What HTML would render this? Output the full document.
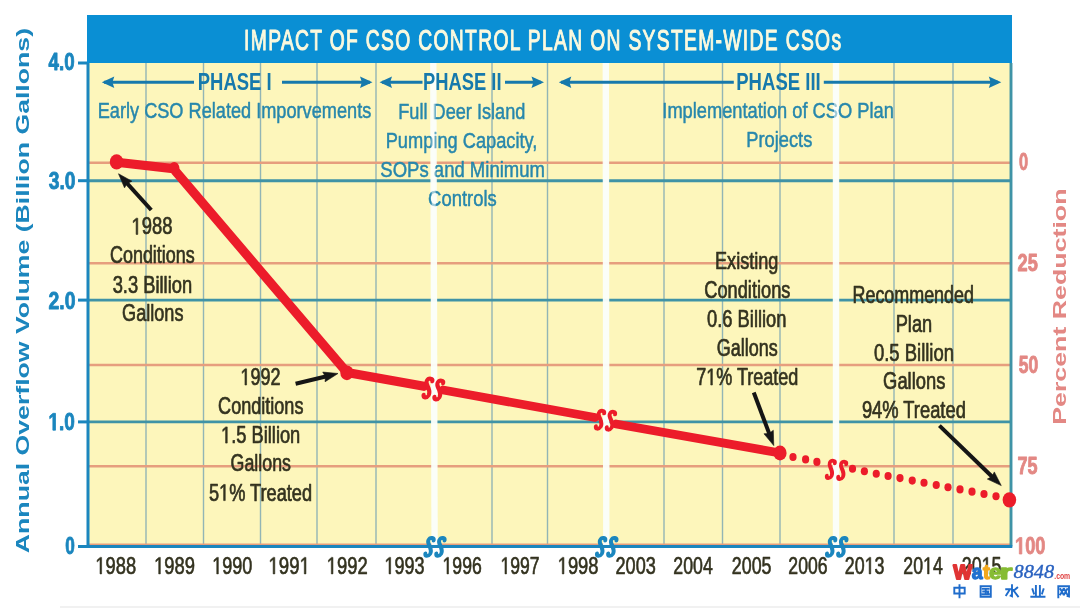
<!DOCTYPE html>
<html><head><meta charset="utf-8"><style>html,body{margin:0;padding:0;background:#fff;width:1080px;height:608px;overflow:hidden;font-family:"Liberation Sans",sans-serif}</style></head><body>
<svg width="1080" height="608" viewBox="0 0 1080 608" style="position:absolute;left:0;top:0;filter:blur(0.35px)" font-family="Liberation Sans, sans-serif">
<rect x="0" y="0" width="1080" height="608" fill="#FFFFFF"/>
<rect x="60" y="606" width="1020" height="2" fill="#F1F1F1"/>
<rect x="88" y="63" width="923" height="483.5" fill="#FDF6BB"/>
<line x1="146" y1="63" x2="146" y2="546.5" stroke="#92B5B5" stroke-width="1.4"/>
<line x1="203.5" y1="63" x2="203.5" y2="546.5" stroke="#92B5B5" stroke-width="1.4"/>
<line x1="260.5" y1="63" x2="260.5" y2="546.5" stroke="#92B5B5" stroke-width="1.4"/>
<line x1="317" y1="63" x2="317" y2="546.5" stroke="#92B5B5" stroke-width="1.4"/>
<line x1="376" y1="63" x2="376" y2="546.5" stroke="#92B5B5" stroke-width="1.4"/>
<line x1="492" y1="63" x2="492" y2="546.5" stroke="#92B5B5" stroke-width="1.4"/>
<line x1="547.5" y1="63" x2="547.5" y2="546.5" stroke="#92B5B5" stroke-width="1.4"/>
<line x1="664" y1="63" x2="664" y2="546.5" stroke="#92B5B5" stroke-width="1.4"/>
<line x1="722.5" y1="63" x2="722.5" y2="546.5" stroke="#92B5B5" stroke-width="1.4"/>
<line x1="780" y1="63" x2="780" y2="546.5" stroke="#92B5B5" stroke-width="1.4"/>
<line x1="894" y1="63" x2="894" y2="546.5" stroke="#92B5B5" stroke-width="1.4"/>
<line x1="953" y1="63" x2="953" y2="546.5" stroke="#92B5B5" stroke-width="1.4"/>
<line x1="88" y1="162.8" x2="1011" y2="162.8" stroke="#E69E7E" stroke-width="2.4"/>
<line x1="88" y1="263.2" x2="1011" y2="263.2" stroke="#E69E7E" stroke-width="2.4"/>
<line x1="88" y1="365" x2="1011" y2="365" stroke="#E69E7E" stroke-width="2.4"/>
<line x1="88" y1="466.3" x2="1011" y2="466.3" stroke="#E69E7E" stroke-width="2.4"/>
<line x1="88" y1="544.2" x2="1011" y2="544.2" stroke="#E69E7E" stroke-width="1.6"/>
<line x1="88" y1="180.7" x2="1011" y2="180.7" stroke="#3F93A6" stroke-width="2.9"/>
<line x1="88" y1="300.1" x2="1011" y2="300.1" stroke="#3F93A6" stroke-width="2.9"/>
<line x1="88" y1="421.9" x2="1011" y2="421.9" stroke="#3F93A6" stroke-width="2.9"/>
<path d="M430.10 63 L436.50 63 L437.80 546.5 L431.40 546.5 Z" fill="#FBFEFA" opacity="0.96"/>
<path d="M602.60 63 L609.00 63 L609.50 546.5 L603.10 546.5 Z" fill="#FBFEFA" opacity="0.96"/>
<path d="M832.80 63 L839.20 63 L839.20 546.5 L832.80 546.5 Z" fill="#FBFEFA" opacity="0.96"/>
<line x1="88" y1="63" x2="88" y2="546.5" stroke="#1B86BE" stroke-width="3"/>
<line x1="1011" y1="63" x2="1011" y2="546.5" stroke="#3F93A6" stroke-width="2.9"/>
<line x1="78" y1="546.5" x2="1012.3" y2="546.5" stroke="#1B86BE" stroke-width="3"/>
<line x1="78" y1="63" x2="88" y2="63" stroke="#1B86BE" stroke-width="3"/>
<line x1="78" y1="180.7" x2="88" y2="180.7" stroke="#1B86BE" stroke-width="3"/>
<line x1="78" y1="300.1" x2="88" y2="300.1" stroke="#1B86BE" stroke-width="3"/>
<line x1="78" y1="421.9" x2="88" y2="421.9" stroke="#1B86BE" stroke-width="3"/>
<rect x="87" y="15" width="925" height="48" fill="#0A8FD4"/>
<g transform="translate(244.09,50.20) scale(0.6649,1)"><text x="0" y="0" font-size="29" font-weight="normal" fill="#FBF9DE" stroke="#FBF9DE" stroke-width="1.1" stroke-linejoin="round"  letter-spacing="2">IMPACT OF CSO CONTROL PLAN ON SYSTEM-WIDE CSOs</text></g>
<line x1="104" y1="82.3" x2="194" y2="82.3" stroke="#1679AC" stroke-width="3"/>
<path d="M101.8 82.3 L114.3 76.5 L112.425 82.3 L114.3 88.1 Z" fill="#1679AC"/>
<line x1="282" y1="82.3" x2="370" y2="82.3" stroke="#1679AC" stroke-width="3"/>
<path d="M372.5 82.3 L360.0 76.5 L361.875 82.3 L360.0 88.1 Z" fill="#1679AC"/>
<line x1="382" y1="82.3" x2="422.5" y2="82.3" stroke="#1679AC" stroke-width="3"/>
<path d="M379.5 82.3 L392.0 76.5 L390.125 82.3 L392.0 88.1 Z" fill="#1679AC"/>
<line x1="505" y1="82.3" x2="541" y2="82.3" stroke="#1679AC" stroke-width="3"/>
<path d="M544 82.3 L531.5 76.5 L533.375 82.3 L531.5 88.1 Z" fill="#1679AC"/>
<line x1="561" y1="82.3" x2="733.8" y2="82.3" stroke="#1679AC" stroke-width="3"/>
<path d="M558.8 82.3 L571.3 76.5 L569.425 82.3 L571.3 88.1 Z" fill="#1679AC"/>
<line x1="823.8" y1="82.3" x2="998" y2="82.3" stroke="#1679AC" stroke-width="3"/>
<path d="M1001.3 82.3 L988.8 76.5 L990.675 82.3 L988.8 88.1 Z" fill="#1679AC"/>
<g transform="translate(197.76,89.60) scale(0.7868,1)"><text x="0" y="0" font-size="23.5" font-weight="bold" fill="#1679AC" >PHASE I</text></g>
<g transform="translate(422.97,89.80) scale(0.7823,1)"><text x="0" y="0" font-size="23.5" font-weight="bold" fill="#1679AC" >PHASE II</text></g>
<g transform="translate(736.26,89.80) scale(0.7890,1)"><text x="0" y="0" font-size="23.5" font-weight="bold" fill="#1679AC" >PHASE III</text></g>
<g transform="translate(97.71,117.60) scale(0.8078,1)"><text x="0" y="0" font-size="22.5" font-weight="normal" fill="#2787AC" stroke="#2787AC" stroke-width="0.5" stroke-linejoin="round" >Early CSO Related Imporvements</text></g>
<g transform="translate(398.21,118.80) scale(0.8077,1)"><text x="0" y="0" font-size="22.5" font-weight="normal" fill="#2787AC" stroke="#2787AC" stroke-width="0.5" stroke-linejoin="round" >Full Deer Island</text></g>
<g transform="translate(385.71,147.80) scale(0.8106,1)"><text x="0" y="0" font-size="22.5" font-weight="normal" fill="#2787AC" stroke="#2787AC" stroke-width="0.5" stroke-linejoin="round" >Pumping Capacity,</text></g>
<g transform="translate(380.36,176.80) scale(0.8230,1)"><text x="0" y="0" font-size="22.5" font-weight="normal" fill="#2787AC" stroke="#2787AC" stroke-width="0.5" stroke-linejoin="round" >SOPs and Minimum</text></g>
<g transform="translate(428.07,206.00) scale(0.8199,1)"><text x="0" y="0" font-size="22.5" font-weight="normal" fill="#2787AC" stroke="#2787AC" stroke-width="0.5" stroke-linejoin="round" >Controls</text></g>
<g transform="translate(662.32,117.60) scale(0.8125,1)"><text x="0" y="0" font-size="22.5" font-weight="normal" fill="#2787AC" stroke="#2787AC" stroke-width="0.5" stroke-linejoin="round" >Implementation of CSO Plan</text></g>
<g transform="translate(746.20,147.20) scale(0.8141,1)"><text x="0" y="0" font-size="22.5" font-weight="normal" fill="#2787AC" stroke="#2787AC" stroke-width="0.5" stroke-linejoin="round" >Projects</text></g>
<path d="M431.38 93 L435.38 93 L435.71 215 L431.71 215 Z" fill="#FBFEFA" opacity="0.55"/>
<path d="M603.83 93 L607.83 93 L607.96 215 L603.96 215 Z" fill="#FBFEFA" opacity="0.55"/>
<path d="M834.00 93 L838.00 93 L838.00 215 L834.00 215 Z" fill="#FBFEFA" opacity="0.55"/>
<g transform="translate(48.56,70.00) scale(0.7655,1)"><text x="0" y="0" font-size="24.5" font-weight="bold" fill="#1B86BE" stroke="#1B86BE" stroke-width="0.9" stroke-linejoin="round" >4.0</text></g>
<g transform="translate(48.71,189.20) scale(0.7849,1)"><text x="0" y="0" font-size="24.5" font-weight="bold" fill="#1B86BE" stroke="#1B86BE" stroke-width="0.9" stroke-linejoin="round" >3.0</text></g>
<g transform="translate(48.48,309.20) scale(0.7917,1)"><text x="0" y="0" font-size="24.5" font-weight="bold" fill="#1B86BE" stroke="#1B86BE" stroke-width="0.9" stroke-linejoin="round" >2.0</text></g>
<g transform="translate(48.45,430.20) scale(0.7748,1)"><text x="0" y="0" font-size="24.5" font-weight="bold" fill="#1B86BE" stroke="#1B86BE" stroke-width="0.9" stroke-linejoin="round" > .0</text><path d="M5.72 0.00 L5.72 -14.00 L1.67 -11.47 L1.67 -14.12 L5.90 -16.86 L9.08 -16.86 L9.08 0.00 Z" fill="#1B86BE" stroke="#1B86BE" stroke-width="0.9" stroke-linejoin="round" /></g>
<g transform="translate(65.24,554.00) scale(0.7011,1)"><text x="0" y="0" font-size="24.5" font-weight="bold" fill="#1B86BE" stroke="#1B86BE" stroke-width="0.9" stroke-linejoin="round" >0</text></g>
<g transform="translate(1019.06,170.20) scale(0.6821,1)"><text x="0" y="0" font-size="24" font-weight="bold" fill="#E38884" stroke="#E38884" stroke-width="0.9" stroke-linejoin="round" >0</text></g>
<g transform="translate(1017.51,271.30) scale(0.7589,1)"><text x="0" y="0" font-size="24" font-weight="bold" fill="#E38884" stroke="#E38884" stroke-width="0.9" stroke-linejoin="round" >25</text></g>
<g transform="translate(1018.79,373.00) scale(0.7306,1)"><text x="0" y="0" font-size="24" font-weight="bold" fill="#E38884" stroke="#E38884" stroke-width="0.9" stroke-linejoin="round" >50</text></g>
<g transform="translate(1017.56,473.80) scale(0.7531,1)"><text x="0" y="0" font-size="24" font-weight="bold" fill="#E38884" stroke="#E38884" stroke-width="0.9" stroke-linejoin="round" >75</text></g>
<g transform="translate(1015.10,554.00) scale(0.7570,1)"><text x="0" y="0" font-size="24" font-weight="bold" fill="#E38884" stroke="#E38884" stroke-width="0.9" stroke-linejoin="round" > 00</text><path d="M5.60 0.00 L5.60 -13.71 L1.64 -11.24 L1.64 -13.83 L5.78 -16.51 L8.89 -16.51 L8.89 0.00 Z" fill="#E38884" stroke="#E38884" stroke-width="0.9" stroke-linejoin="round" /></g>
<g transform="translate(28.70,552.50) scale(0.7600,1) rotate(-90) translate(-0.66,0) scale(1.0667,1)"><text x="0" y="0" font-size="25" font-weight="bold" fill="#1B86BE" >Annual Overflow Volume (Billion Gallons)</text></g>
<g transform="translate(1065.50,423.00) scale(0.7600,1) rotate(-90) translate(-1.79,0) scale(1.1151,1)"><text x="0" y="0" font-size="24" font-weight="bold" fill="#E38884" >Percent Reduction</text></g>
<g transform="translate(95.39,573.90) scale(0.7637,1)"><text x="0" y="0" font-size="24" font-weight="normal" fill="#33321F" stroke="#33321F" stroke-width="0.65" stroke-linejoin="round" > 988</text><path d="M6.04 0.00 L6.04 -14.50 L2.31 -11.84 L2.31 -13.83 L6.21 -16.51 L8.16 -16.51 L8.16 0.00 Z" fill="#33321F" stroke="#33321F" stroke-width="0.65" stroke-linejoin="round" /></g>
<g transform="translate(154.08,573.90) scale(0.7670,1)"><text x="0" y="0" font-size="24" font-weight="normal" fill="#33321F" stroke="#33321F" stroke-width="0.65" stroke-linejoin="round" > 989</text><path d="M6.04 0.00 L6.04 -14.50 L2.31 -11.84 L2.31 -13.83 L6.21 -16.51 L8.16 -16.51 L8.16 0.00 Z" fill="#33321F" stroke="#33321F" stroke-width="0.65" stroke-linejoin="round" /></g>
<g transform="translate(212.21,573.90) scale(0.7522,1)"><text x="0" y="0" font-size="24" font-weight="normal" fill="#33321F" stroke="#33321F" stroke-width="0.65" stroke-linejoin="round" > 990</text><path d="M6.04 0.00 L6.04 -14.50 L2.31 -11.84 L2.31 -13.83 L6.21 -16.51 L8.16 -16.51 L8.16 0.00 Z" fill="#33321F" stroke="#33321F" stroke-width="0.65" stroke-linejoin="round" /></g>
<g transform="translate(268.46,573.90) scale(0.7780,1)"><text x="0" y="0" font-size="24" font-weight="normal" fill="#33321F" stroke="#33321F" stroke-width="0.65" stroke-linejoin="round" > 99 </text><path d="M6.04 0.00 L6.04 -14.50 L2.31 -11.84 L2.31 -13.83 L6.21 -16.51 L8.16 -16.51 L8.16 0.00 Z" fill="#33321F" stroke="#33321F" stroke-width="0.65" stroke-linejoin="round" /><path d="M46.07 0.00 L46.07 -14.50 L42.34 -11.84 L42.34 -13.83 L46.24 -16.51 L48.19 -16.51 L48.19 0.00 Z" fill="#33321F" stroke="#33321F" stroke-width="0.65" stroke-linejoin="round" /></g>
<g transform="translate(326.68,573.90) scale(0.7681,1)"><text x="0" y="0" font-size="24" font-weight="normal" fill="#33321F" stroke="#33321F" stroke-width="0.65" stroke-linejoin="round" > 992</text><path d="M6.04 0.00 L6.04 -14.50 L2.31 -11.84 L2.31 -13.83 L6.21 -16.51 L8.16 -16.51 L8.16 0.00 Z" fill="#33321F" stroke="#33321F" stroke-width="0.65" stroke-linejoin="round" /></g>
<g transform="translate(384.51,573.90) scale(0.7500,1)"><text x="0" y="0" font-size="24" font-weight="normal" fill="#33321F" stroke="#33321F" stroke-width="0.65" stroke-linejoin="round" > 993</text><path d="M6.04 0.00 L6.04 -14.50 L2.31 -11.84 L2.31 -13.83 L6.21 -16.51 L8.16 -16.51 L8.16 0.00 Z" fill="#33321F" stroke="#33321F" stroke-width="0.65" stroke-linejoin="round" /></g>
<g transform="translate(442.54,573.90) scale(0.7342,1)"><text x="0" y="0" font-size="24" font-weight="normal" fill="#33321F" stroke="#33321F" stroke-width="0.65" stroke-linejoin="round" > 996</text><path d="M6.04 0.00 L6.04 -14.50 L2.31 -11.84 L2.31 -13.83 L6.21 -16.51 L8.16 -16.51 L8.16 0.00 Z" fill="#33321F" stroke="#33321F" stroke-width="0.65" stroke-linejoin="round" /></g>
<g transform="translate(500.55,573.90) scale(0.7325,1)"><text x="0" y="0" font-size="24" font-weight="normal" fill="#33321F" stroke="#33321F" stroke-width="0.65" stroke-linejoin="round" > 997</text><path d="M6.04 0.00 L6.04 -14.50 L2.31 -11.84 L2.31 -13.83 L6.21 -16.51 L8.16 -16.51 L8.16 0.00 Z" fill="#33321F" stroke="#33321F" stroke-width="0.65" stroke-linejoin="round" /></g>
<g transform="translate(557.68,573.90) scale(0.7656,1)"><text x="0" y="0" font-size="24" font-weight="normal" fill="#33321F" stroke="#33321F" stroke-width="0.65" stroke-linejoin="round" > 998</text><path d="M6.04 0.00 L6.04 -14.50 L2.31 -11.84 L2.31 -13.83 L6.21 -16.51 L8.16 -16.51 L8.16 0.00 Z" fill="#33321F" stroke="#33321F" stroke-width="0.65" stroke-linejoin="round" /></g>
<g transform="translate(615.53,573.90) scale(0.7553,1)"><text x="0" y="0" font-size="24" font-weight="normal" fill="#33321F" stroke="#33321F" stroke-width="0.65" stroke-linejoin="round" >2003</text></g>
<g transform="translate(673.35,573.90) scale(0.7387,1)"><text x="0" y="0" font-size="24" font-weight="normal" fill="#33321F" stroke="#33321F" stroke-width="0.65" stroke-linejoin="round" >2004</text></g>
<g transform="translate(731.84,573.90) scale(0.7430,1)"><text x="0" y="0" font-size="24" font-weight="normal" fill="#33321F" stroke="#33321F" stroke-width="0.65" stroke-linejoin="round" >2005</text></g>
<g transform="translate(788.35,573.90) scale(0.7341,1)"><text x="0" y="0" font-size="24" font-weight="normal" fill="#33321F" stroke="#33321F" stroke-width="0.65" stroke-linejoin="round" >2006</text></g>
<g transform="translate(844.84,573.90) scale(0.7437,1)"><text x="0" y="0" font-size="24" font-weight="normal" fill="#33321F" stroke="#33321F" stroke-width="0.65" stroke-linejoin="round" >20 3</text><path d="M32.72 0.00 L32.72 -14.50 L29.00 -11.84 L29.00 -13.83 L32.90 -16.51 L34.84 -16.51 L34.84 0.00 Z" fill="#33321F" stroke="#33321F" stroke-width="0.65" stroke-linejoin="round" /></g>
<g transform="translate(903.35,573.90) scale(0.7387,1)"><text x="0" y="0" font-size="24" font-weight="normal" fill="#33321F" stroke="#33321F" stroke-width="0.65" stroke-linejoin="round" >20 4</text><path d="M32.72 0.00 L32.72 -14.50 L29.00 -11.84 L29.00 -13.83 L32.90 -16.51 L34.84 -16.51 L34.84 0.00 Z" fill="#33321F" stroke="#33321F" stroke-width="0.65" stroke-linejoin="round" /></g>
<g transform="translate(961.84,573.90) scale(0.7430,1)"><text x="0" y="0" font-size="24" font-weight="normal" fill="#33321F" stroke="#33321F" stroke-width="0.65" stroke-linejoin="round" >20 5</text><path d="M32.72 0.00 L32.72 -14.50 L29.00 -11.84 L29.00 -13.83 L32.90 -16.51 L34.84 -16.51 L34.84 0.00 Z" fill="#33321F" stroke="#33321F" stroke-width="0.65" stroke-linejoin="round" /></g>
<g transform="translate(131.50,234.40) scale(0.7828,1)"><text x="0" y="0" font-size="23.5" font-weight="normal" fill="#33321F" stroke="#33321F" stroke-width="0.7" stroke-linejoin="round" > 988</text><path d="M5.91 0.00 L5.91 -14.19 L2.26 -11.59 L2.26 -13.54 L6.08 -16.17 L7.99 -16.17 L7.99 0.00 Z" fill="#33321F" stroke="#33321F" stroke-width="0.7" stroke-linejoin="round" /></g>
<g transform="translate(109.96,263.10) scale(0.7640,1)"><text x="0" y="0" font-size="23.5" font-weight="normal" fill="#33321F" stroke="#33321F" stroke-width="0.7" stroke-linejoin="round" >Conditions</text></g>
<g transform="translate(112.67,292.50) scale(0.7802,1)"><text x="0" y="0" font-size="23.5" font-weight="normal" fill="#33321F" stroke="#33321F" stroke-width="0.7" stroke-linejoin="round" >3.3 Billion</text></g>
<g transform="translate(122.11,321.25) scale(0.7704,1)"><text x="0" y="0" font-size="23.5" font-weight="normal" fill="#33321F" stroke="#33321F" stroke-width="0.7" stroke-linejoin="round" >Gallons</text></g>
<g transform="translate(240.43,385.00) scale(0.7692,1)"><text x="0" y="0" font-size="23.5" font-weight="normal" fill="#33321F" stroke="#33321F" stroke-width="0.7" stroke-linejoin="round" > 992</text><path d="M5.91 0.00 L5.91 -14.19 L2.26 -11.59 L2.26 -13.54 L6.08 -16.17 L7.99 -16.17 L7.99 0.00 Z" fill="#33321F" stroke="#33321F" stroke-width="0.7" stroke-linejoin="round" /></g>
<g transform="translate(218.10,413.75) scale(0.7690,1)"><text x="0" y="0" font-size="23.5" font-weight="normal" fill="#33321F" stroke="#33321F" stroke-width="0.7" stroke-linejoin="round" >Conditions</text></g>
<g transform="translate(221.01,443.10) scale(0.7784,1)"><text x="0" y="0" font-size="23.5" font-weight="normal" fill="#33321F" stroke="#33321F" stroke-width="0.7" stroke-linejoin="round" > .5 Billion</text><path d="M5.91 0.00 L5.91 -14.19 L2.26 -11.59 L2.26 -13.54 L6.08 -16.17 L7.99 -16.17 L7.99 0.00 Z" fill="#33321F" stroke="#33321F" stroke-width="0.7" stroke-linejoin="round" /></g>
<g transform="translate(230.62,471.25) scale(0.7576,1)"><text x="0" y="0" font-size="23.5" font-weight="normal" fill="#33321F" stroke="#33321F" stroke-width="0.7" stroke-linejoin="round" >Gallons</text></g>
<g transform="translate(208.94,500.60) scale(0.7746,1)"><text x="0" y="0" font-size="23.5" font-weight="normal" fill="#33321F" stroke="#33321F" stroke-width="0.7" stroke-linejoin="round" >5 % Treated</text><path d="M18.97 0.00 L18.97 -14.19 L15.32 -11.59 L15.32 -13.54 L19.14 -16.17 L21.05 -16.17 L21.05 0.00 Z" fill="#33321F" stroke="#33321F" stroke-width="0.7" stroke-linejoin="round" /></g>
<g transform="translate(715.03,269.40) scale(0.7701,1)"><text x="0" y="0" font-size="23.5" font-weight="normal" fill="#33321F" stroke="#33321F" stroke-width="0.7" stroke-linejoin="round" >Existing</text></g>
<g transform="translate(704.35,298.10) scale(0.7749,1)"><text x="0" y="0" font-size="23.5" font-weight="normal" fill="#33321F" stroke="#33321F" stroke-width="0.7" stroke-linejoin="round" >Conditions</text></g>
<g transform="translate(707.06,326.90) scale(0.7799,1)"><text x="0" y="0" font-size="23.5" font-weight="normal" fill="#33321F" stroke="#33321F" stroke-width="0.7" stroke-linejoin="round" >0.6 Billion</text></g>
<g transform="translate(716.86,355.60) scale(0.7659,1)"><text x="0" y="0" font-size="23.5" font-weight="normal" fill="#33321F" stroke="#33321F" stroke-width="0.7" stroke-linejoin="round" >Gallons</text></g>
<g transform="translate(696.24,385.00) scale(0.7666,1)"><text x="0" y="0" font-size="23.5" font-weight="normal" fill="#33321F" stroke="#33321F" stroke-width="0.7" stroke-linejoin="round" >7 % Treated</text><path d="M18.97 0.00 L18.97 -14.19 L15.32 -11.59 L15.32 -13.54 L19.14 -16.17 L21.05 -16.17 L21.05 0.00 Z" fill="#33321F" stroke="#33321F" stroke-width="0.7" stroke-linejoin="round" /></g>
<g transform="translate(852.55,302.50) scale(0.7621,1)"><text x="0" y="0" font-size="23.5" font-weight="normal" fill="#33321F" stroke="#33321F" stroke-width="0.7" stroke-linejoin="round" >Recommended</text></g>
<g transform="translate(895.68,331.90) scale(0.7759,1)"><text x="0" y="0" font-size="23.5" font-weight="normal" fill="#33321F" stroke="#33321F" stroke-width="0.7" stroke-linejoin="round" >Plan</text></g>
<g transform="translate(873.95,361.25) scale(0.7859,1)"><text x="0" y="0" font-size="23.5" font-weight="normal" fill="#33321F" stroke="#33321F" stroke-width="0.7" stroke-linejoin="round" >0.5 Billion</text></g>
<g transform="translate(883.10,389.40) scale(0.7818,1)"><text x="0" y="0" font-size="23.5" font-weight="normal" fill="#33321F" stroke="#33321F" stroke-width="0.7" stroke-linejoin="round" >Gallons</text></g>
<g transform="translate(861.91,418.10) scale(0.7805,1)"><text x="0" y="0" font-size="23.5" font-weight="normal" fill="#33321F" stroke="#33321F" stroke-width="0.7" stroke-linejoin="round" >94% Treated</text></g>
<line x1="151.25" y1="210" x2="125.54" y2="181.54" stroke="#151515" stroke-width="4.0" stroke-linecap="butt"/>
<path d="M118.50 173.75 L131.93 181.16 L127.21 183.40 L124.51 187.86 Z" fill="#151515" stroke="#151515" stroke-width="0.6" stroke-linejoin="round"/>
<line x1="295.6" y1="383.75" x2="327.79" y2="375.97" stroke="#151515" stroke-width="4.0" stroke-linecap="butt"/>
<path d="M338.00 373.50 L325.08 381.77 L325.36 376.55 L322.73 372.05 Z" fill="#151515" stroke="#151515" stroke-width="0.6" stroke-linejoin="round"/>
<line x1="753.75" y1="392.5" x2="770.05" y2="435.77" stroke="#151515" stroke-width="4.0" stroke-linecap="butt"/>
<path d="M773.75 445.60 L763.96 433.79 L769.17 433.43 L773.32 430.27 Z" fill="#151515" stroke="#151515" stroke-width="0.6" stroke-linejoin="round"/>
<line x1="939.4" y1="425.6" x2="993.71" y2="478.29" stroke="#151515" stroke-width="4.0" stroke-linecap="butt"/>
<path d="M1001.25 485.60 L987.36 479.09 L991.92 476.55 L994.32 471.91 Z" fill="#151515" stroke="#151515" stroke-width="0.6" stroke-linejoin="round"/>
<polyline points="116.6,162.2 173.2,168.6 347,372.5 424,386.3" fill="none" stroke="#EC1C2A" stroke-width="9.2" stroke-linejoin="round" stroke-linecap="round"/>
<polyline points="443,390 595,417.5" fill="none" stroke="#EC1C2A" stroke-width="8.8" stroke-linecap="round"/>
<polyline points="616,424 780,453" fill="none" stroke="#EC1C2A" stroke-width="8.8" stroke-linecap="round"/>
<ellipse cx="116.6" cy="161.9" rx="6.8" ry="7.62" fill="#EC1C2A"/>
<ellipse cx="174.2" cy="167.8" rx="5.2" ry="5.82" fill="#EC1C2A"/>
<ellipse cx="346.9" cy="372.8" rx="6.6" ry="7.39" fill="#EC1C2A"/>
<ellipse cx="780" cy="453" rx="6.6" ry="7.39" fill="#EC1C2A"/>
<ellipse cx="1009.4" cy="499.8" rx="6.8" ry="7.62" fill="#EC1C2A"/>
<ellipse cx="793" cy="457" rx="3.6" ry="4.1" fill="#EC1C2A"/>
<ellipse cx="805.6" cy="459.4" rx="3.6" ry="4.1" fill="#EC1C2A"/>
<ellipse cx="816.9" cy="461.9" rx="3.6" ry="4.1" fill="#EC1C2A"/>
<ellipse cx="852.5" cy="468.75" rx="3.6" ry="4.1" fill="#EC1C2A"/>
<ellipse cx="864.4" cy="471.25" rx="3.6" ry="4.1" fill="#EC1C2A"/>
<ellipse cx="876.25" cy="473.75" rx="3.6" ry="4.1" fill="#EC1C2A"/>
<ellipse cx="888.1" cy="476" rx="3.6" ry="4.1" fill="#EC1C2A"/>
<ellipse cx="900" cy="478.1" rx="3.6" ry="4.1" fill="#EC1C2A"/>
<ellipse cx="912.25" cy="480.6" rx="3.6" ry="4.1" fill="#EC1C2A"/>
<ellipse cx="924" cy="482.75" rx="3.6" ry="4.1" fill="#EC1C2A"/>
<ellipse cx="936.25" cy="485" rx="3.6" ry="4.1" fill="#EC1C2A"/>
<ellipse cx="948" cy="487.25" rx="3.6" ry="4.1" fill="#EC1C2A"/>
<ellipse cx="960" cy="489.4" rx="3.6" ry="4.1" fill="#EC1C2A"/>
<ellipse cx="972" cy="491.7" rx="3.6" ry="4.1" fill="#EC1C2A"/>
<ellipse cx="984" cy="494" rx="3.6" ry="4.1" fill="#EC1C2A"/>
<ellipse cx="996" cy="496.25" rx="3.6" ry="4.1" fill="#EC1C2A"/>
<path d="M3,-6 C3,-8.9 -1.3,-9.6 -2.3,-6.6 C-2.9,-4.2 -0.9,-2.2 0.5,0.3 C1.9,2.8 2.7,4.9 1.9,7 C0.6,9.7 -2.6,9.6 -3,6.5" transform="translate(427.99,387.80) scale(1.073) skewX(-10)" fill="none" stroke="#EC1C2A" stroke-width="3.8" stroke-linecap="round"/>
<path d="M3,-6 C3,-8.9 -1.3,-9.6 -2.3,-6.6 C-2.9,-4.2 -0.9,-2.2 0.5,0.3 C1.9,2.8 2.7,4.9 1.9,7 C0.6,9.7 -2.6,9.6 -3,6.5" transform="translate(438.81,389.80) scale(1.073) skewX(-10)" fill="none" stroke="#EC1C2A" stroke-width="3.8" stroke-linecap="round"/>
<path d="M3,-6 C3,-8.9 -1.3,-9.6 -2.3,-6.6 C-2.9,-4.2 -0.9,-2.2 0.5,0.3 C1.9,2.8 2.7,4.9 1.9,7 C0.6,9.7 -2.6,9.6 -3,6.5" transform="translate(600.04,419.55) scale(1.023) skewX(-10)" fill="none" stroke="#EC1C2A" stroke-width="3.8" stroke-linecap="round"/>
<path d="M3,-6 C3,-8.9 -1.3,-9.6 -2.3,-6.6 C-2.9,-4.2 -0.9,-2.2 0.5,0.3 C1.9,2.8 2.7,4.9 1.9,7 C0.6,9.7 -2.6,9.6 -3,6.5" transform="translate(610.96,420.55) scale(1.023) skewX(-10)" fill="none" stroke="#EC1C2A" stroke-width="3.8" stroke-linecap="round"/>
<path d="M3,-6 C3,-8.9 -1.3,-9.6 -2.3,-6.6 C-2.9,-4.2 -0.9,-2.2 0.5,0.3 C1.9,2.8 2.7,4.9 1.9,7 C0.6,9.7 -2.6,9.6 -3,6.5" transform="translate(830.86,469.20) scale(0.991) skewX(-10)" fill="none" stroke="#EC1C2A" stroke-width="3.8" stroke-linecap="round"/>
<path d="M3,-6 C3,-8.9 -1.3,-9.6 -2.3,-6.6 C-2.9,-4.2 -0.9,-2.2 0.5,0.3 C1.9,2.8 2.7,4.9 1.9,7 C0.6,9.7 -2.6,9.6 -3,6.5" transform="translate(842.24,470.20) scale(0.991) skewX(-10)" fill="none" stroke="#EC1C2A" stroke-width="3.8" stroke-linecap="round"/>
<path d="M3,-6 C3,-8.9 -1.3,-9.6 -2.3,-6.6 C-2.9,-4.2 -0.9,-2.2 0.5,0.3 C1.9,2.8 2.7,4.9 1.9,7 C0.6,9.7 -2.6,9.6 -3,6.5" transform="translate(429.54,546.75) scale(1.023) skewX(-10)" fill="none" stroke="#1B86BE" stroke-width="3.8" stroke-linecap="round"/>
<path d="M3,-6 C3,-8.9 -1.3,-9.6 -2.3,-6.6 C-2.9,-4.2 -0.9,-2.2 0.5,0.3 C1.9,2.8 2.7,4.9 1.9,7 C0.6,9.7 -2.6,9.6 -3,6.5" transform="translate(440.46,546.75) scale(1.023) skewX(-10)" fill="none" stroke="#1B86BE" stroke-width="3.8" stroke-linecap="round"/>
<path d="M3,-6 C3,-8.9 -1.3,-9.6 -2.3,-6.6 C-2.9,-4.2 -0.9,-2.2 0.5,0.3 C1.9,2.8 2.7,4.9 1.9,7 C0.6,9.7 -2.6,9.6 -3,6.5" transform="translate(601.16,546.75) scale(1.023) skewX(-10)" fill="none" stroke="#1B86BE" stroke-width="3.8" stroke-linecap="round"/>
<path d="M3,-6 C3,-8.9 -1.3,-9.6 -2.3,-6.6 C-2.9,-4.2 -0.9,-2.2 0.5,0.3 C1.9,2.8 2.7,4.9 1.9,7 C0.6,9.7 -2.6,9.6 -3,6.5" transform="translate(612.34,546.75) scale(1.023) skewX(-10)" fill="none" stroke="#1B86BE" stroke-width="3.8" stroke-linecap="round"/>
<path d="M3,-6 C3,-8.9 -1.3,-9.6 -2.3,-6.6 C-2.9,-4.2 -0.9,-2.2 0.5,0.3 C1.9,2.8 2.7,4.9 1.9,7 C0.6,9.7 -2.6,9.6 -3,6.5" transform="translate(831.16,546.75) scale(1.023) skewX(-10)" fill="none" stroke="#1B86BE" stroke-width="3.8" stroke-linecap="round"/>
<path d="M3,-6 C3,-8.9 -1.3,-9.6 -2.3,-6.6 C-2.9,-4.2 -0.9,-2.2 0.5,0.3 C1.9,2.8 2.7,4.9 1.9,7 C0.6,9.7 -2.6,9.6 -3,6.5" transform="translate(842.34,546.75) scale(1.023) skewX(-10)" fill="none" stroke="#1B86BE" stroke-width="3.8" stroke-linecap="round"/>
<g transform="translate(953.15,578.80) scale(0.9712,1)"><text x="0" y="0" font-size="20.5" font-weight="bold" fill="#E03434" stroke="#E03434" stroke-width="1.8" stroke-linejoin="round" >W</text></g>
<g transform="translate(971.63,579.00) scale(0.9282,1)"><text x="0" y="0" font-size="21" font-weight="bold" fill="#2272D0" stroke="#2272D0" stroke-width="1.3" stroke-linejoin="round" >a</text></g>
<g transform="translate(982.98,579.00) scale(0.9768,1)"><text x="0" y="0" font-size="21" font-weight="bold" fill="#F2A81E" stroke="#F2A81E" stroke-width="1.3" stroke-linejoin="round" >t</text></g>
<g transform="translate(989.02,579.00) scale(1.0663,1)"><text x="0" y="0" font-size="21" font-weight="bold" fill="#86BC34" stroke="#86BC34" stroke-width="1.3" stroke-linejoin="round" >e</text></g>
<g transform="translate(999.67,579.00) scale(1.5444,1)"><text x="0" y="0" font-size="21" font-weight="bold" fill="#86BC34" stroke="#86BC34" stroke-width="1.3" stroke-linejoin="round" >r</text></g>
<text x="0" y="0" transform="translate(1013.6,578.2)" font-family="Liberation Serif, serif" font-style="italic" font-size="18.5" fill="#2A62C0" stroke="#2A62C0" stroke-width="0.35" textLength="40.5" lengthAdjust="spacingAndGlyphs">8848</text>
<g transform="translate(1054.23,578.90) scale(0.7214,1)"><text x="0" y="0" font-size="9.5" font-weight="bold" fill="#E04040" >.com</text></g>
<path d="M1,2.5 H11.4 V8.2 H1 Z M6.2,0 V12" transform="translate(953.3,585.3)" fill="none" stroke="#1F6CCB" stroke-width="1.9" stroke-linecap="square"/>
<path d="M0.8,0.8 H11 V11.2 H0.8 Z M3,3.4 H8.8 M3.4,6 H8.4 M2.8,8.8 H9 M5.9,3.4 V8.8 M7.9,6.8 L8.4,7.6" transform="translate(979.8,585.5)" fill="none" stroke="#1F6CCB" stroke-width="1.9" stroke-linecap="square"/>
<path d="M7,0 V11 L5.6,10.4 M1.2,4 H5 L1.2,10 M12.2,2.4 L8.6,5.4 M8.4,5 L13,11" transform="translate(1005,585.3)" fill="none" stroke="#1F6CCB" stroke-width="1.9" stroke-linecap="square"/>
<path d="M4.6,0.5 V11 M8.6,0.5 V11 M1.2,3.8 L2.6,8 M12.2,3.8 L10.8,8 M0,11.3 H13.2" transform="translate(1031.3,585.5)" fill="none" stroke="#1F6CCB" stroke-width="1.9" stroke-linecap="square"/>
<path d="M0.9,12 V0.9 H11.6 V11 L10.2,10.6 M3,3.6 L6,9 M6,3.6 L3,9 M6.8,3.6 L9.8,9 M9.8,3.6 L6.8,9" transform="translate(1057.4,585.4)" fill="none" stroke="#1F6CCB" stroke-width="1.9" stroke-linecap="square"/>
</svg>
</body></html>
